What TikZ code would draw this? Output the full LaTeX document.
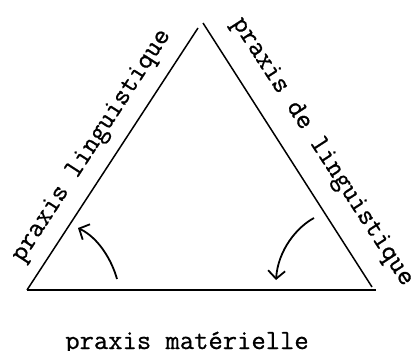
\documentclass[tikz,border=0pt]{standalone}
\usepackage{fontspec}
\usetikzlibrary{arrows.meta}
\newfontfamily\typewriter[FakeBold=0.7]{Latin Modern Mono}

\begin{document}
\begin{tikzpicture}[x=1pt, y=-1pt,
    side/.style={black, line width=1.5pt},
    turn/.style={black, line width=1.8pt, -{Straight Barb[length=8pt, width=17pt]}},
    praxis/.style={inner sep=0pt, font=\typewriter\fontsize{27.8}{32}\selectfont}]
    \useasboundingbox (0,0) rectangle (414,350);
    % Corners of the triangle.
        \coordinate (left) at (27,290);
        \coordinate (right) at (376,290);
        \coordinate (topL) at (198,28);
        \coordinate (topR) at (203,23);
        \coordinate (endR) at (372,287);
    \draw[side] (left) -- (topL);
    \draw[side] (topR) -- (endR);
    \draw[side] (left) -- (right);
    % Ends of the two curved arrows.
        \coordinate (fromL) at (117,279);
        \coordinate (toL) at (78,228);
        \coordinate (fromR) at (314,218);
        \coordinate (toR) at (276,280);
    \draw[turn] (fromL) .. controls (112,261) and (99,238) .. (toL);
    \draw[turn] (fromR) .. controls (297,227) and (278,250) .. (toR);
    % Below nodes are the labels.
        \node[praxis, rotate=57] (ling) at (92,146) {praxis linguistique};
        \node[praxis, rotate=-57] (deling) at (322,152) {praxis de linguistique};
        \node[praxis, anchor=base] (mat) at (187,349) {praxis matérielle};
\end{tikzpicture}
\end{document}
